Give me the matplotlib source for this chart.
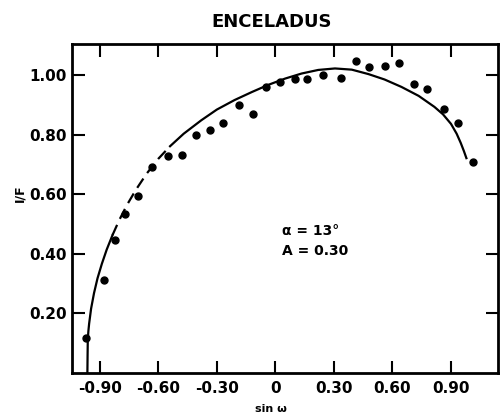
import matplotlib
matplotlib.use("Agg")
import matplotlib.pyplot as plt

# Observed disk-integrated reflectance vs. sin(omega)
obs_sin_w = [-0.972, -0.879, -0.822, -0.769, -0.703, -0.635, -0.552, -0.479,
             -0.406, -0.333, -0.266, -0.188, -0.115, -0.049, 0.024, 0.101,
             0.161, 0.243, 0.336, 0.414, 0.478, 0.563, 0.635, 0.709,
             0.779, 0.863, 0.938, 1.016]
obs_if = [0.116, 0.311, 0.446, 0.532, 0.595, 0.691, 0.729, 0.733,
          0.799, 0.814, 0.838, 0.900, 0.869, 0.959, 0.976, 0.986,
          0.988, 1.000, 0.989, 1.047, 1.028, 1.030, 1.039, 0.969,
          0.952, 0.885, 0.840, 0.708]

# Model curve (alpha = 13 deg, A = 0.30)
model_sin_w = [-0.964, -0.963, -0.962, -0.959, -0.955, -0.945, -0.930, -0.912,
               -0.890, -0.865, -0.835, -0.800, -0.760, -0.715, -0.660, -0.600,
               -0.540, -0.470, -0.380, -0.300, -0.209, -0.120, -0.036, 0.050,
               0.135, 0.220, 0.306, 0.392, 0.478, 0.560, 0.647, 0.735,
               0.816, 0.860, 0.901, 0.930, 0.951, 0.967, 0.980]
model_if = [0.000, 0.060, 0.110, 0.140, 0.166, 0.216, 0.268, 0.318,
            0.366, 0.414, 0.463, 0.514, 0.565, 0.615, 0.669, 0.719,
            0.761, 0.803, 0.848, 0.884, 0.916, 0.943, 0.967, 0.988,
            1.005, 1.017, 1.022, 1.018, 1.003, 0.985, 0.960, 0.930,
            0.893, 0.868, 0.836, 0.803, 0.772, 0.745, 0.721]
dash_from, dash_to = 10, 16  # extrapolated part of the model drawn dashed

xticks = [-0.9, -0.6, -0.3, 0.0, 0.3, 0.6, 0.9]
xticklabels = ["-0.90", "-0.60", "-0.30", "0", "0.30", "0.60", "0.90"]
yticks = [0.2, 0.4, 0.6, 0.8, 1.0]
yticklabels = ["0.20", "0.40", "0.60", "0.80", "1.00"]

plt.rcParams["font.family"] = "DejaVu Sans"
plt.rcParams["font.weight"] = "bold"

fig = plt.figure(figsize=(5.02, 4.2), dpi=100)
ax = fig.add_axes([0.1434, 0.1119, 0.8486, 0.7833])

line_kw = dict(color="black", lw=1.6, solid_joinstyle="round")
ax.plot(model_sin_w[:dash_from + 1], model_if[:dash_from + 1], **line_kw)
ax.plot(model_sin_w[dash_from:dash_to + 1], model_if[dash_from:dash_to + 1],
        ls=(0, (5, 3)), **line_kw)
ax.plot(model_sin_w[dash_to:], model_if[dash_to:], **line_kw)
ax.plot(obs_sin_w, obs_if, "o", color="black", ms=5, mec="black")

ax.set_xlim(-1.043, 1.142)
ax.set_ylim(0, 1.104)
ax.set_xticks(xticks)
ax.set_xticklabels(xticklabels)
ax.set_yticks(yticks)
ax.set_yticklabels(yticklabels)
ax.tick_params(direction="in", length=9, width=1.5, labelsize=11,
               top=True, right=True)
ax.tick_params(axis="x", pad=6)
ax.tick_params(axis="y", pad=4)
for s in ax.spines.values():
    s.set_linewidth(2)

ax.text(0.035, 0.475, "α = 13°", fontsize=10, fontweight="bold", va="center")
ax.text(0.035, 0.408, "A = 0.30", fontsize=10, fontweight="bold", va="center")

ax.set_xlabel("sin ω", fontsize=8, fontweight="bold")
ax.xaxis.set_label_coords(0.466, -0.095)
ax.set_ylabel("I/F", fontsize=9, fontweight="bold")
ax.yaxis.set_label_coords(-0.108, 0.547)

fig.text(272 / 502, 1 - 22 / 420, "ENCELADUS", ha="center", va="center",
         fontsize=13, fontweight="bold")

fig.savefig("out.png", dpi=100)
